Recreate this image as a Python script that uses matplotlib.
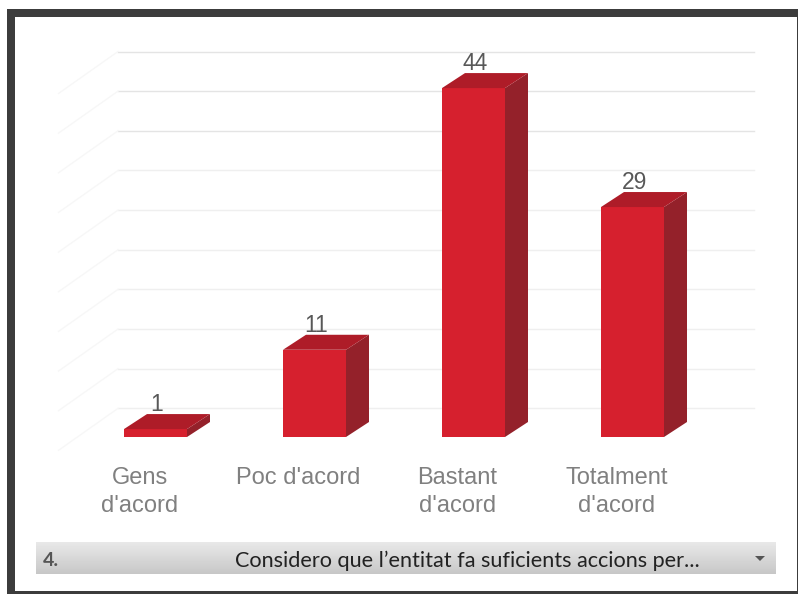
import numpy as np
import matplotlib
matplotlib.use('Agg')
import matplotlib.pyplot as plt
from matplotlib.patches import Polygon, Rectangle

categories = ['Gens\nd\'acord', 'Poc d\'acord', 'Bastant\nd\'acord', 'Totalment\nd\'acord']
values = [1, 11, 44, 29]
grid_values = [5, 10, 15, 20, 25, 30, 35, 40, 45, 50]
question_no = '4.'
question = 'Considero que l\u2019entitat fa suficients accions per...'

# scale of the picture: pixels per category and per unit
px_x = 159.0
px_y = 7.93
x0 = 155.5
y0 = 437

fig = plt.figure(figsize=(8, 5.94), dpi=100)
ax = fig.add_axes([0, 0, 1, 1])
ax.set_xlim(-x0 / px_x, (800 - x0) / px_x)
ax.set_ylim(-(594 - y0) / px_y, y0 / px_y)
ax.axis('off')

bar_w = 63 / px_x
dx = 23 / px_x
dy = 15 / px_y

# back wall grid and the faint diagonals on the left
for g in grid_values:
    y = g - 11 / px_y
    col = '#e4e4e4' if g >= 40 else '#efefef'
    ax.plot([-37.5 / px_x, 598 / px_x], [y, y], color=col, lw=1.0, zorder=1)
    ax.plot([-37.5 / px_x, -97 / px_x], [y, y - 42 / px_y], color='#f7f7f7', lw=1.0, zorder=1)

xs = np.arange(len(values))
ax.bar(xs, values, width=bar_w, color='#d6202e', zorder=3)

for x, v in zip(xs, values):
    l = x - bar_w / 2
    r = x + bar_w / 2
    ax.add_patch(Polygon([(r, 0), (r + dx, dy), (r + dx, v + dy), (r, v)],
                         closed=True, fc='#94212a', ec='none', zorder=3))
    ax.add_patch(Polygon([(l, v), (l + dx, v + dy), (r + dx, v + dy), (r, v)],
                         closed=True, fc='#ae1c28', ec='none', zorder=3))
    ax.text(x + 0.01, v + dy - 2 / px_y, str(v), ha='center', va='bottom',
            fontsize=16.5, color='#585858', family='Liberation Sans', zorder=4)

for x, c in zip(xs, categories):
    ax.text(x - 0.1, -30 / px_y, c, ha='center', va='top', fontsize=17,
            color='#808080', family='Liberation Sans', linespacing=1.36)

# question bar with grey gradient
grad = np.linspace(0.91, 0.78, 32).reshape(-1, 1)
left = (36 - x0) / px_x
right = (776 - x0) / px_x
top = (y0 - 542) / px_y
bottom = (y0 - 574) / px_y
ax.imshow(grad, cmap='gray', vmin=0, vmax=1, aspect='auto',
          extent=[left, right, bottom, top], zorder=2)
ax.set_xlim(-x0 / px_x, (800 - x0) / px_x)
ax.set_ylim(-(594 - y0) / px_y, y0 / px_y)
mid = (top + bottom) / 2
ax.text((43 - x0) / px_x, mid - 3 / px_y, question_no, ha='left', va='center', fontsize=14,
        color='#555555', family='Lato', fontweight='bold', zorder=4)
ax.text((235 - x0) / px_x, mid - 3 / px_y, question, ha='left', va='center', fontsize=15.6,
        color='#222222', family='Lato', zorder=4)
ax.fill([(755 - x0) / px_x, (765 - x0) / px_x, (760 - x0) / px_x],
        [mid + 2 / px_y, mid + 2 / px_y, mid - 3 / px_y], color='#555555', lw=0, zorder=4)

# dark frame of the screenshot
for (fx, fy, fw, fh) in [(7, 9, 791, 8), (7, 9, 8, 585), (7, 591, 791, 3), (797, 9, 1, 585)]:
    fig.add_artist(Rectangle((fx / 800, 1 - (fy + fh) / 594), fw / 800, fh / 594,
                             transform=fig.transFigure, fc='#3c3c3c', ec='none'))

fig.savefig('out.png', dpi=100)
